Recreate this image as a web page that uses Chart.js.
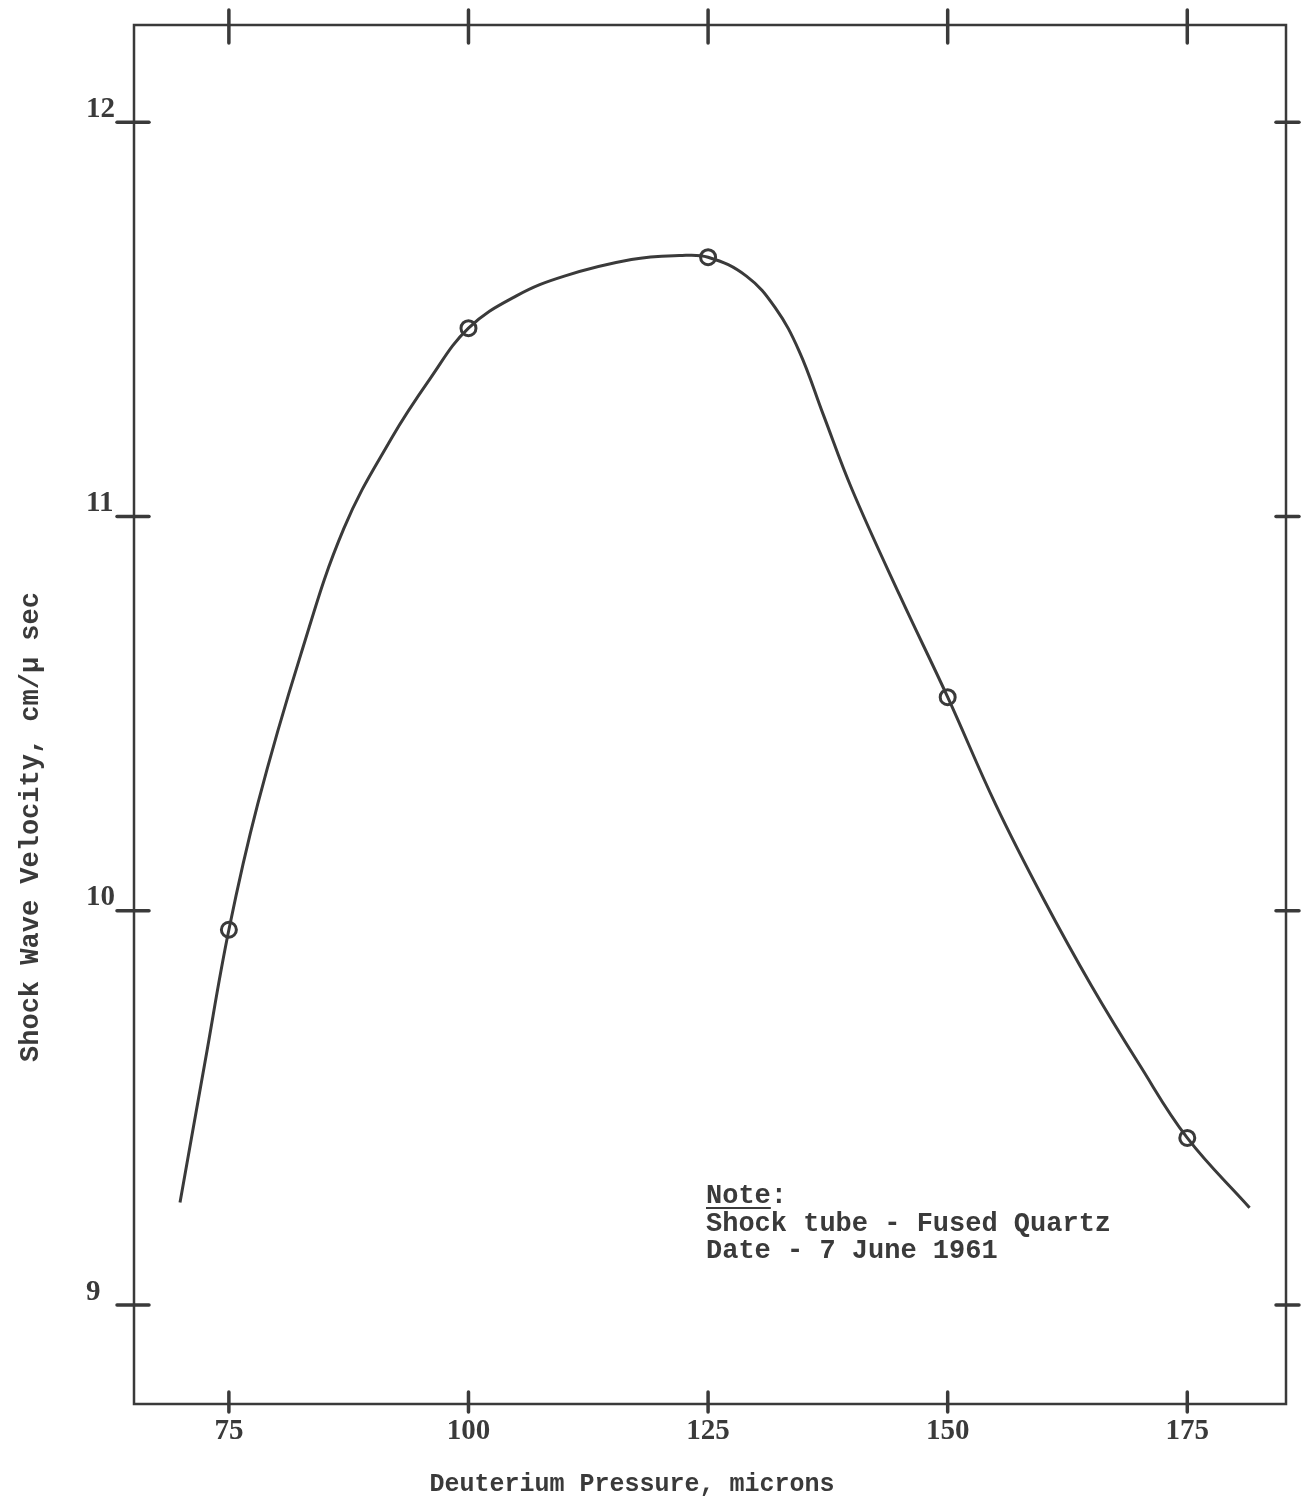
<!DOCTYPE html>
<html>
<head>
<meta charset="utf-8">
<script src="https://cdn.jsdelivr.net/npm/chart.js@4.4.0/dist/chart.umd.min.js"></script>
<style>
html,body{margin:0;padding:0;background:#ffffff;}
canvas{display:block;}
</style>
</head>
<body>
<canvas id="c" width="1308" height="1496"></canvas>
<script>
// ---- data ----
const curvePressure = [69.9, 72.5, 75, 78, 82.5, 87, 92, 96, 100, 105, 110, 117, 122, 125, 129, 132, 134.5, 137, 140, 145, 150, 155, 160, 165, 170, 175, 181.5];
const curveVelocity = [9.26, 9.615, 9.952, 10.27, 10.65, 10.97, 11.2, 11.35, 11.478, 11.56, 11.61, 11.652, 11.662, 11.658, 11.61, 11.53, 11.42, 11.26, 11.07, 10.80, 10.542, 10.27, 10.03, 9.81, 9.61, 9.424, 9.247];
const measuredPressure = [75, 100, 125, 150, 175];
const measuredVelocity = [9.952, 11.478, 11.658, 10.542, 9.424];
const xTickValues = [75, 100, 125, 150, 175];
const yTickValues = [9, 10, 11, 12];
const xTitle = 'Deuterium Pressure, microns';
const yTitle = 'Shock Wave Velocity, cm/\u03BC sec';
const noteHeading = 'Note';
const noteLines = ['Shock tube - Fused Quartz', 'Date - 7 June 1961'];

const ink = '#3a3a3a';
const monoBold = '"Liberation Mono", "DejaVu Sans Mono", monospace';

const decor = {
  id: 'decor',
  beforeDatasetsDraw(chart) {
    const ctx = chart.ctx, a = chart.chartArea;
    ctx.save();
    ctx.strokeStyle = ink;
    ctx.lineWidth = 2.5;
    ctx.strokeRect(a.left, a.top, a.right - a.left, a.bottom - a.top);
    ctx.restore();
  },
  afterDraw(chart) {
    const ctx = chart.ctx, a = chart.chartArea;
    const xs = chart.scales.x, ys = chart.scales.y;
    ctx.save();
    ctx.strokeStyle = ink;
    ctx.lineWidth = 3.5;
    ctx.lineCap = 'round';
    const seg = (x1, y1, x2, y2) => { ctx.beginPath(); ctx.moveTo(x1, y1); ctx.lineTo(x2, y2); ctx.stroke(); };
    xTickValues.forEach(v => {
      const px = xs.getPixelForValue(v);
      seg(px, a.top - 15, px, a.top + 18);
      seg(px, a.bottom - 12, px, a.bottom + 8);
    });
    yTickValues.forEach(v => {
      const py = ys.getPixelForValue(v);
      seg(a.left - 17, py, a.left + 15, py);
      seg(a.right - 10, py, a.right + 13, py);
    });

    // axis titles
    ctx.fillStyle = ink;
    ctx.font = 'bold 25px ' + monoBold;
    ctx.textAlign = 'center';
    ctx.textBaseline = 'alphabetic';
    ctx.fillText(xTitle, 632, 1491);

    ctx.save();
    ctx.translate(38, 827);
    ctx.rotate(-Math.PI / 2);
    ctx.font = 'bold 27px ' + monoBold;
    ctx.fillText(yTitle, 0, 0);
    ctx.restore();

    // note
    ctx.textAlign = 'left';
    ctx.font = 'bold 27px ' + monoBold;
    ctx.fillText(noteHeading, 706, 1203);
    const w = ctx.measureText(noteHeading).width;
    ctx.fillText(':', 706 + w, 1203);
    ctx.lineWidth = 2;
    ctx.lineCap = 'butt';
    seg(706, 1208, 706 + w, 1208);
    noteLines.forEach((t, i) => ctx.fillText(t, 706, 1231 + i * 27));
    ctx.restore();
  }
};

new Chart(document.getElementById('c'), {
  type: 'line',
  data: {
    datasets: [
      {
        label: 'curve',
        data: curvePressure.map((p, i) => ({ x: p, y: curveVelocity[i] })),
        borderColor: ink,
        borderWidth: 3,
        pointRadius: 0,
        tension: 0.4,
        fill: false
      },
      {
        label: 'measured',
        data: measuredPressure.map((p, i) => ({ x: p, y: measuredVelocity[i] })),
        showLine: false,
        pointRadius: 7.5,
        pointBorderWidth: 3,
        pointBorderColor: ink,
        pointBackgroundColor: '#ffffff'
      }
    ]
  },
  options: {
    responsive: false,
    animation: false,
    devicePixelRatio: 1,
    layout: { padding: { left: 86, top: 25, right: 22, bottom: 0 } },
    plugins: { legend: { display: false }, tooltip: { enabled: false } },
    scales: {
      x: {
        type: 'linear',
        min: 65.1,
        max: 185.3,
        afterFit(s) { s.height = 92; },
        afterBuildTicks(s) { s.ticks = xTickValues.map(v => ({ value: v })); },
        grid: { display: false, drawTicks: false },
        border: { display: false },
        ticks: {
          color: ink,
          padding: 10,
          font: { family: '"Liberation Serif", "DejaVu Serif", serif', size: 29, weight: 'bold' },
          maxRotation: 0,
          autoSkip: false
        }
      },
      y: {
        type: 'linear',
        min: 8.749,
        max: 12.247,
        afterFit(s) { s.width = 48; },
        afterBuildTicks(s) { s.ticks = yTickValues.map(v => ({ value: v })); },
        grid: { display: false, drawTicks: false },
        border: { display: false },
        ticks: {
          color: ink,
          crossAlign: 'far',
          labelOffset: -13,
          padding: 0,
          font: { family: '"Liberation Serif", "DejaVu Serif", serif', size: 29, weight: 'bold' },
          autoSkip: false
        }
      }
    }
  },
  plugins: [decor]
});
</script>
</body>
</html>
